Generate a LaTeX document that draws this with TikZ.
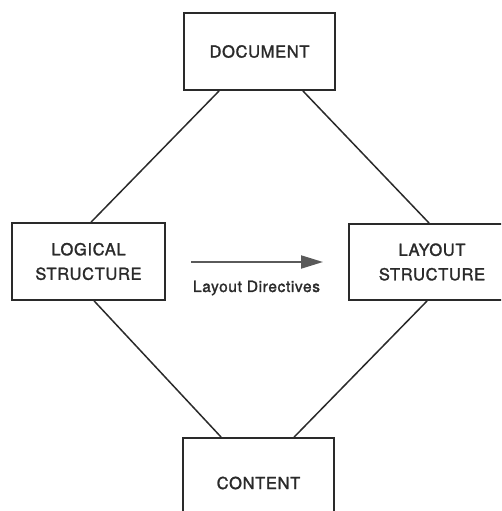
\documentclass[tikz,border=0pt]{standalone}
\usepackage{fontspec}
\setmainfont{TeX Gyre Heros}[LetterSpace=4, FakeBold=1.6]
\usetikzlibrary{arrows.meta}
\definecolor{ink}{HTML}{2A2A2A}
\definecolor{arrowgray}{HTML}{5A5A5A}
\tikzset{
  x=1pt, y=-1pt,
  box/.style={draw=ink, line width=1.8pt, rectangle, inner sep=0pt, align=center,
    font=\fontsize{16.5}{24.5}\selectfont, text=ink},
  link/.style={draw=ink, line width=1.5pt},
  directive/.style={draw=arrowgray, line width=2pt,
    -{Triangle[length=22pt, width=13pt, fill=arrowgray]}},
  lbl/.style={font=\fontsize{15.5}{18}\selectfont, text=ink}
}
\begin{document}
\begin{tikzpicture}
  \useasboundingbox (0,0) rectangle (501,511);
  \clip (0,0) rectangle (501,511);
  % the four boxes
  \node[box, minimum width=151pt, minimum height=77pt] (doc) at (259.5,51.5) {DOCUMENT};
  \node[box, minimum width=153pt, minimum height=77pt] (logical) at (88.5,261.5) {LOGICAL\\STRUCTURE};
  \node[box, minimum width=166pt, minimum height=76pt] (layout) at (432,262) {LAYOUT\\STRUCTURE};
  \node[box, minimum width=151pt, minimum height=90pt] (content) at (258.5,483) {CONTENT};
  % connectors between the boxes
  \draw[link] ([xshift=36pt]doc.south west) -- ([xshift=80pt]logical.north west);
  \draw[link] ([xshift=-33pt]doc.south east) -- ([xshift=81pt]layout.north west);
  \draw[link] ([xshift=83pt]logical.south west) -- ([xshift=39pt]content.north west);
  \draw[link] ([xshift=79pt]layout.south west) -- ([xshift=112pt]content.north west);
  % layout directives arrow
  \coordinate (dirstart) at (191,262);
  \coordinate (dirend) at (323,262);
  \draw[directive] (dirstart) -- (dirend);
  \node[lbl] (dirlabel) at (256.5,288) {Layout Directives};
\end{tikzpicture}
\end{document}
